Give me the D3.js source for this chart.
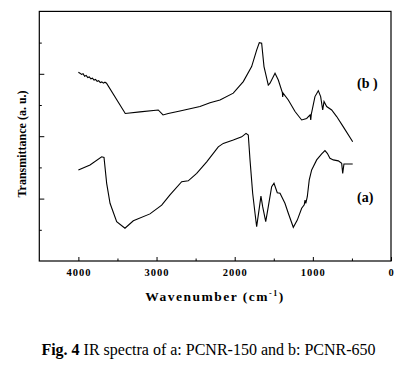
<!DOCTYPE html>
<html><head><meta charset="utf-8">
<script src="https://cdn.jsdelivr.net/npm/d3@7"></script>
<style>body{margin:0;background:#fff}svg{display:block}</style>
</head><body>
<script>
// Spectrum (b) PCNR-650: wavenumber (cm-1) and transmittance (a.u.)
const waveB = [4000,3980,3960,3940,3920,3900,3880,3860,3840,3820,3800,3780,3760,3740,3720,3700,3680,3660,3640,3400,3212,2978,2917,2850,2700,2444,2316,2188,2018,1890,1783,1719,1685,1655,1625,1570,1548,1484,1442,1390,1386,1380,1314,1228,1143,1079,1036,1027,1020,973,930,900,874,857,823,759,695,610,490];
const transB = [6.05,6.02,5.98,6.00,5.92,5.95,5.88,5.90,5.84,5.86,5.80,5.82,5.76,5.78,5.72,5.74,5.70,5.73,5.70,4.73,4.78,4.84,4.68,4.73,4.81,4.95,5.07,5.16,5.38,5.75,6.23,6.76,7.00,6.98,6.23,5.64,5.70,6.02,5.80,5.40,5.26,5.38,5.16,4.79,4.52,4.57,4.68,4.52,4.70,5.27,5.46,5.27,4.84,5.11,4.95,4.84,4.63,4.30,3.82];
// Spectrum (a) PCNR-150
const waveA = [4000,3851,3702,3672,3638,3595,3510,3404,3297,3084,2934,2828,2678,2594,2486,2358,2210,2146,2018,1910,1855,1826,1804,1770,1740,1719,1689,1664,1642,1603,1570,1527,1497,1455,1420,1357,1314,1250,1199,1143,1110,1100,1090,1071,1046,1015,951,887,845,815,781,738,674,631,618,602,547,490];
const transA = [2.92,3.08,3.34,3.32,2.49,1.85,1.26,1.05,1.29,1.51,1.79,2.12,2.54,2.57,2.81,3.18,3.66,3.77,3.88,3.98,4.09,4.04,3.24,2.17,1.53,1.10,1.63,2.08,1.74,1.26,1.74,2.38,2.49,2.19,2.17,1.85,1.53,1.08,1.31,1.69,1.80,1.95,1.85,2.06,2.60,2.92,3.24,3.43,3.54,3.45,3.29,3.24,3.21,3.13,2.81,3.11,3.11,3.11];
const xTicks = [4000,3000,2000,1000,0];
const xMinor = [3500,2500,1500,500];
const yMajor = [2,4,6];
const yMinor = [1,3,5,7];
const seriesLabels = ["(b )","(a)"];

const SERIF = '"Liberation Serif","Times New Roman","DejaVu Serif",serif';
const W=417,H=378;
const svg=d3.select("body").append("svg").attr("width",W).attr("height",H);
const x=d3.scaleLinear().domain([4500,0]).range([39.3,391]);
const y=d3.scaleLinear().domain([0,8]).range([261,11.4]);

const line=d3.line().x(d=>x(d[0])).y(d=>y(d[1]));
svg.append("path").datum(waveB.map((w,i)=>[w,transB[i]])).attr("d",line)
  .attr("fill","none").attr("stroke","#000").attr("stroke-width",1.1);
svg.append("path").datum(waveA.map((w,i)=>[w,transA[i]])).attr("d",line)
  .attr("fill","none").attr("stroke","#000").attr("stroke-width",1.1);

// frame
svg.append("rect").attr("x",x(4500)).attr("y",y(8)).attr("width",x(0)-x(4500)).attr("height",y(0)-y(8))
  .attr("fill","none").attr("stroke","#000").attr("stroke-width",1.2);

// x axis
const xa=svg.append("g").attr("transform",`translate(0,${y(0)})`)
  .call(d3.axisBottom(x).tickValues(xTicks).tickFormat(d3.format("d")).tickSizeInner(-4).tickSizeOuter(0).tickPadding(8));
xa.select(".domain").remove();
xa.selectAll("text").style("font-family",SERIF).style("font-weight","bold").style("font-size","10.5px").style("letter-spacing","1px");
const xm=svg.append("g").attr("transform",`translate(0,${y(0)})`)
  .call(d3.axisBottom(x).tickValues(xMinor).tickSizeInner(-2.5).tickSizeOuter(0).tickFormat(""));
xm.select(".domain").remove();

// y axis ticks (no labels)
const ya=svg.append("g").attr("transform",`translate(${x(4500)},0)`)
  .call(d3.axisLeft(y).tickValues(yMajor).tickSizeInner(-5).tickSizeOuter(0).tickFormat(""));
ya.select(".domain").remove();
const ym=svg.append("g").attr("transform",`translate(${x(4500)},0)`)
  .call(d3.axisLeft(y).tickValues(yMinor).tickSizeInner(-2.5).tickSizeOuter(0).tickFormat(""));
ym.select(".domain").remove();

function txt(sel){return sel.style("font-family",SERIF);}
// series labels
txt(svg.append("text")).attr("x",357).attr("y",88).style("font-weight","bold").style("font-size","14px").text(seriesLabels[0]);
txt(svg.append("text")).attr("x",357).attr("y",201.5).style("font-weight","bold").style("font-size","14px").text(seriesLabels[1]);

// axis titles
txt(svg.append("text")).attr("transform","translate(26,144) rotate(-90)").attr("text-anchor","middle")
  .style("font-weight","bold").style("font-size","12px").text("Transmittance (a. u.)");
const xt=txt(svg.append("text")).attr("x",215).attr("y",301).attr("text-anchor","middle")
  .style("font-weight","bold").style("font-size","13.5px").style("letter-spacing","1.5px");
xt.append("tspan").text("Wavenumber (cm");
xt.append("tspan").attr("dy",-5).style("font-size","8px").text("-1");
xt.append("tspan").attr("dy",5).text(")");

// caption
const cap=txt(svg.append("text")).attr("x",208.5).attr("y",355).attr("text-anchor","middle").style("font-size","16px");
cap.append("tspan").style("font-weight","bold").text("Fig. 4");
cap.append("tspan").text(" IR spectra of a: PCNR-150 and b: PCNR-650");
</script>
</body></html>
